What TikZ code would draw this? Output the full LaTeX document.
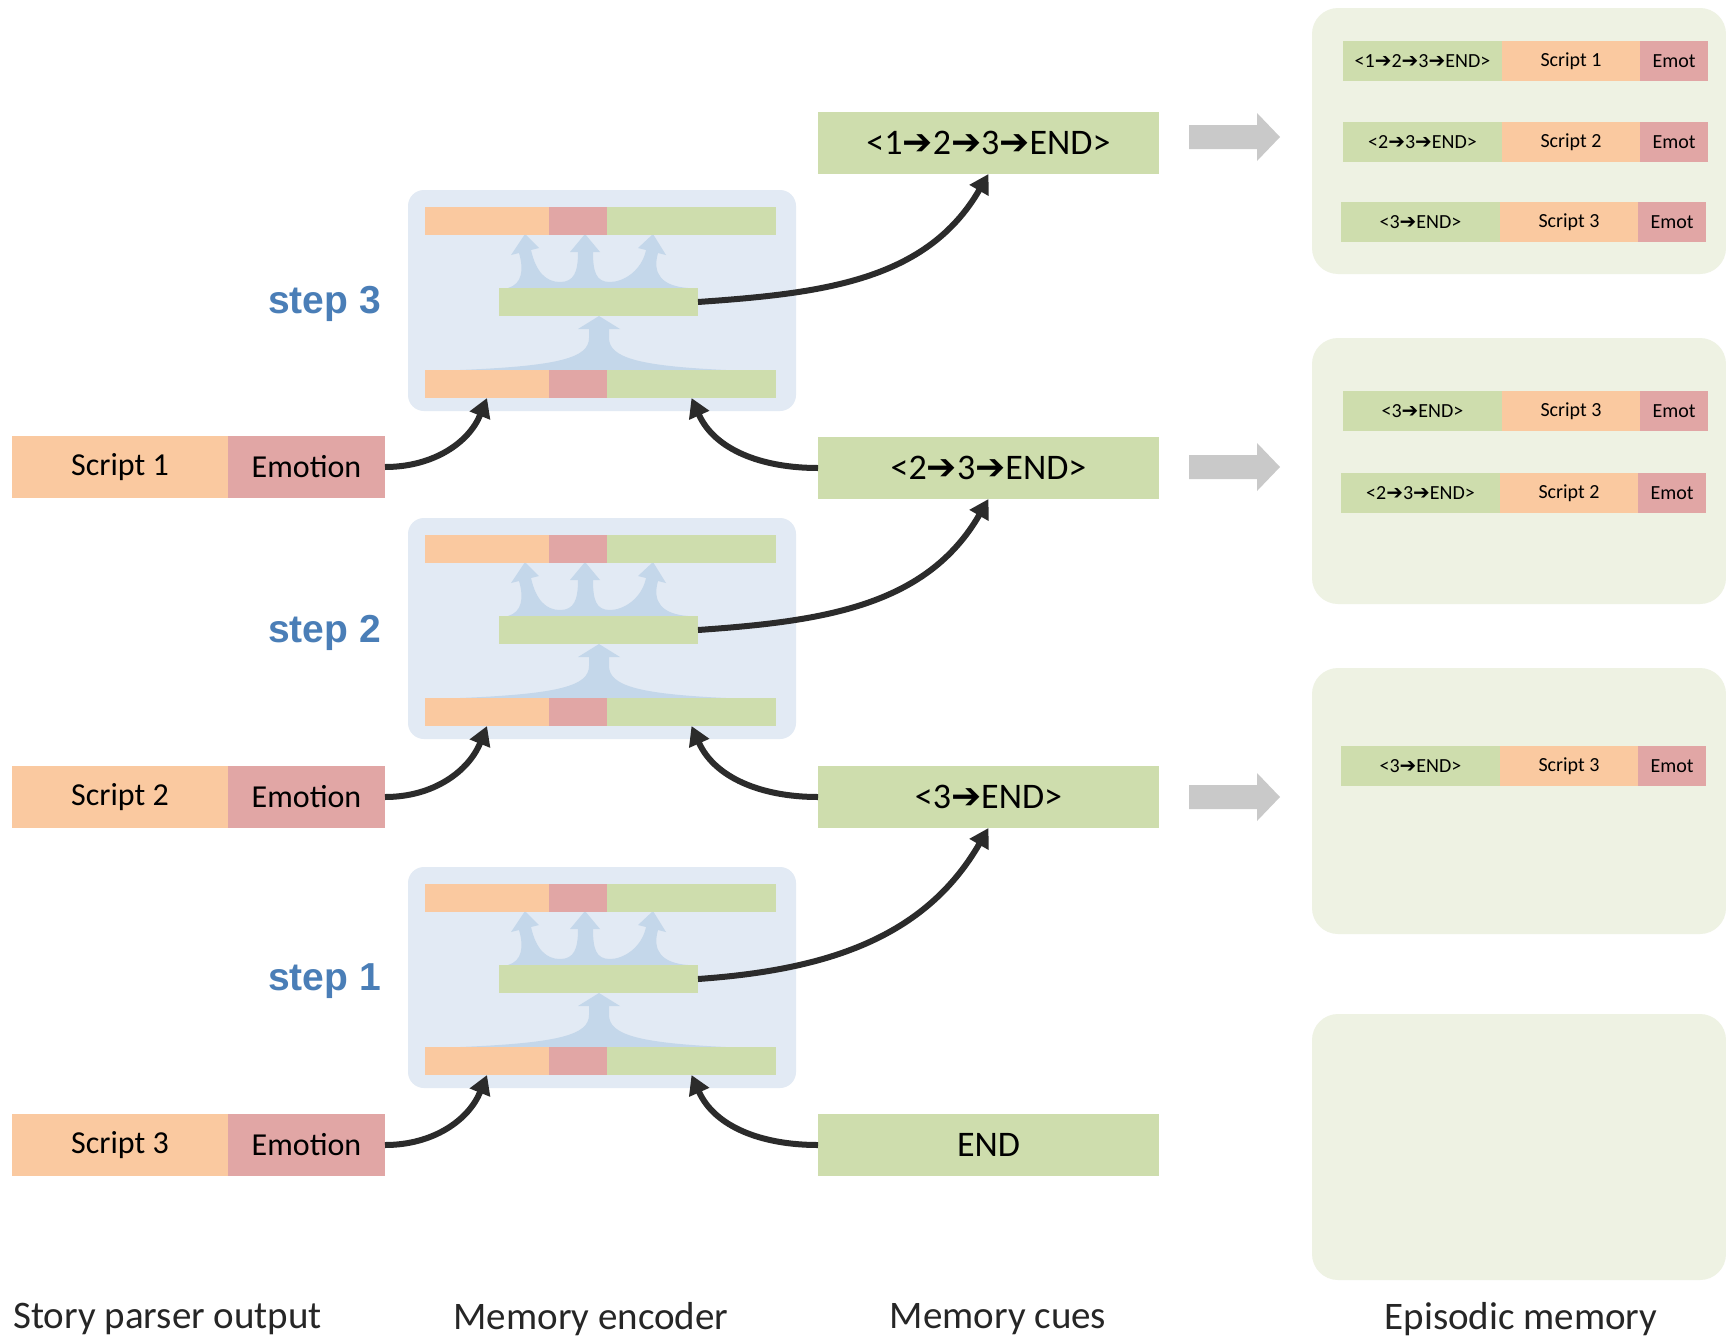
\documentclass[tikz,border=0pt]{standalone}
\usepackage{fontspec}
\setmainfont{Carlito}
\newfontfamily\stepfont{Liberation Sans}
\newfontfamily\arrowfont{DejaVu Sans}
\usetikzlibrary{arrows.meta}

\definecolor{cOr}{HTML}{FAC9A0}
\definecolor{cPk}{HTML}{E1A6A5}
\definecolor{cGr}{HTML}{CEDDAD}
\definecolor{cEnc}{HTML}{E2EAF4}
\definecolor{cFan}{HTML}{C4D7EA}
\definecolor{cPanel}{HTML}{EEF2E3}
\definecolor{cGray}{HTML}{C9C9C9}
\definecolor{cStep}{HTML}{4A7EB7}
\definecolor{cLine}{HTML}{2B2B2B}

\newcommand\ra{{\arrowfont\bfseries\symbol{"2794}}}
\newcommand\bigfnt{\fontsize{32}{38}\selectfont}
\newcommand\cuefnt{\fontsize{36}{42}\selectfont}
\newcommand\rowfnt{\fontsize{20}{24}\selectfont}
\newcommand\labfnt{\fontsize{39}{46}\selectfont}
\newcommand\stepfnt{\stepfont\bfseries\fontsize{39}{46}\selectfont}

\tikzset{
  seg/.style={inner sep=0pt, outer sep=0pt, anchor=north west, draw=none},
  orseg/.style={seg, fill=cOr},
  pkseg/.style={seg, fill=cPk},
  grseg/.style={seg, fill=cGr},
  conn/.style={draw=cLine, line width=6pt, -{Triangle[length=19pt,width=21pt]}},
  fan/.style={fill=cFan},
  encbox/.style={seg, fill=cEnc, rounded corners=16pt, minimum width=388pt, minimum height=221pt},
  panel/.style={seg, fill=cPanel, rounded corners=26pt, minimum width=414pt, minimum height=266pt},
  bigarrow/.style={fill=cGray},
  steplabel/.style={anchor=east, text=cStep, font=\stepfnt, inner sep=0pt},
  caption/.style={font=\labfnt, text=black!85, inner sep=0pt},
  cuebox/.style={grseg, font=\cuefnt, minimum width=341pt, minimum height=62pt},
  inbox/.style={orseg, font=\bigfnt, minimum width=216pt, minimum height=62pt},
  emobox/.style={pkseg, font=\bigfnt, minimum width=157pt, minimum height=62pt},
}

% episodic-memory row: name, x, y, cue text, script text
\newcommand\emrow[5]{%
  \node[grseg, font=\rowfnt, minimum width=159pt, minimum height=40pt] (#1g) at (#2,#3) {#4};
  \node[orseg, font=\rowfnt, minimum width=138pt, minimum height=40pt] (#1o) at (#1g.north east) {#5};
  \node[pkseg, font=\rowfnt, minimum width=68pt, minimum height=40pt] (#1p) at (#1o.north east) {Emot};
}

\begin{document}
\begin{tikzpicture}[x=1pt,y=-1pt]
\useasboundingbox (0,0) rectangle (1726,1341);
\fill[white] (0,0) rectangle (1726,1341);

% ---------- episodic memory panels ----------
\node[panel] (p1) at (1312,8) {};
\node[panel] (p2) at (1312,338) {};
\node[panel] (p3) at (1312,668) {};
\node[panel] (p4) at (1312,1014) {};

\emrow{ra}{1343}{41}{<1\ra 2\ra 3\ra END>}{Script 1}
\emrow{rb}{1343}{122}{<2\ra 3\ra END>}{Script 2}
\emrow{rc}{1341}{202}{<3\ra END>}{Script 3}
\emrow{rd}{1343}{391}{<3\ra END>}{Script 3}
\emrow{re}{1341}{473}{<2\ra 3\ra END>}{Script 2}
\emrow{rf}{1341}{746}{<3\ra END>}{Script 3}

% ---------- gray arrows ----------
\foreach \c in {137,467,797}{
  \fill[bigarrow] (1189,\c-12) -- (1257,\c-12) -- (1257,\c-24) -- (1280,\c)
    -- (1257,\c+24) -- (1257,\c+12) -- (1189,\c+12) -- cycle;
}

% ---------- memory encoders ----------
\foreach \s/\d in {3/0,2/328,1/677}{
  \node[encbox] (enc\s) at (408,190+\d) {};
  \begin{scope}[shift={(408,190+\d)}]
    % lower fan: bottom bar -> middle bar
    \fill[fan] (52,180) .. controls (150,176) and (181,168) .. (181,148)
      -- (181,139) -- (170,139) -- (191,126) -- (212,139) -- (201,139) -- (201,148)
      .. controls (201,168) and (232,176) .. (318,180) -- cycle;
    % upper fan: middle bar -> top bar (three arrows)
    \fill[fan] (100,98) .. controls (114,94) and (116,80) .. (111,63)
      -- (103,65) -- (117,44) -- (131,58) -- (123,60)
      .. controls (128,82) and (138,92) .. (152,92)
      .. controls (166,92) and (170,82) .. (170,62)
      -- (162,62) -- (177,44) -- (192,62) -- (185,62)
      .. controls (185,82) and (188,92) .. (202,92)
      .. controls (216,92) and (234,80) .. (238,60)
      -- (230,58) -- (245,44) -- (258,65) -- (250,63)
      .. controls (244,84) and (254,96) .. (280,98) -- cycle;
  \end{scope}
  % top bar
  \node[orseg, minimum width=124pt, minimum height=28pt] (to\s) at (425,207+\d) {};
  \node[pkseg, minimum width=58pt, minimum height=28pt] (tp\s) at (to\s.north east) {};
  \node[grseg, minimum width=169pt, minimum height=28pt] (tg\s) at (tp\s.north east) {};
  % middle bar
  \node[grseg, minimum width=199pt, minimum height=28pt] (mid\s) at (499,288+\d) {};
  % bottom bar
  \node[orseg, minimum width=124pt, minimum height=28pt] (bo\s) at (425,370+\d) {};
  \node[pkseg, minimum width=58pt, minimum height=28pt] (bp\s) at (bo\s.north east) {};
  \node[grseg, minimum width=169pt, minimum height=28pt] (bg\s) at (bp\s.north east) {};
}

% ---------- step labels ----------
\node[steplabel] (st3) at (381,304) {step 3};
\node[steplabel] (st2) at (381,633) {step 2};
\node[steplabel] (st1) at (381,981) {step 1};

% ---------- story parser output ----------
\node[inbox] (in1) at (12,436) {Script 1};
\node[emobox] (em1) at (in1.north east) {Emotion};
\node[inbox] (in2) at (12,766) {Script 2};
\node[emobox] (em2) at (in2.north east) {Emotion};
\node[inbox] (in3) at (12,1114) {Script 3};
\node[emobox] (em3) at (in3.north east) {Emotion};

% ---------- memory cues ----------
\node[cuebox] (cueA) at (818,112) {<1\ra 2\ra 3\ra END>};
\node[cuebox] (cueB) at (818,437) {<2\ra 3\ra END>};
\node[cuebox] (cueC) at (818,766) {<3\ra END>};
\node[cuebox] (cueD) at (818,1114) {END};

% ---------- connectors ----------
\draw[conn] (em1.east) to[out=0,in=-112] (bo3.south);
\draw[conn] (cueB.west) to[out=180,in=-66] (bg3.south);
\draw[conn] (mid3.east) to[out=4,in=-120] (cueA.south);

\draw[conn] (em2.east) to[out=0,in=-112] (bo2.south);
\draw[conn] (cueC.west) to[out=180,in=-66] (bg2.south);
\draw[conn] (mid2.east) to[out=4,in=-120] (cueB.south);

\draw[conn] (em3.east) to[out=0,in=-112] (bo1.south);
\draw[conn] (cueD.west) to[out=180,in=-66] (bg1.south);
\draw[conn] (mid1.east) to[out=4,in=-120] (cueC.south);

% ---------- captions ----------
\node[caption, anchor=west] (cap1) at (13,1319) {Story parser output};
\node[caption] (cap2) at (591,1319) {Memory encoder};
\node[caption] (cap3) at (998,1319) {Memory cues};
\node[caption] (cap4) at (1521,1319) {Episodic memory};
\end{tikzpicture}
\end{document}
